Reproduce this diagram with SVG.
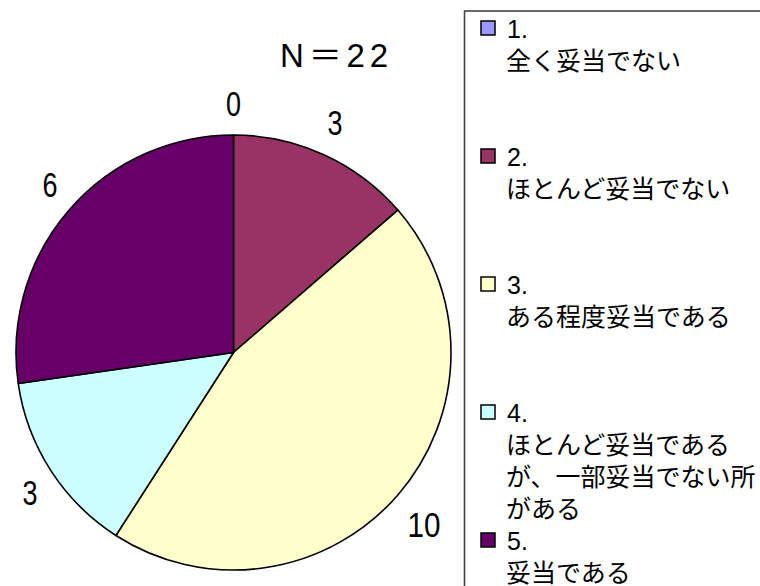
<svg xmlns="http://www.w3.org/2000/svg" width="760" height="586" viewBox="0 0 760 586">
<style>
.slice{stroke:#000;stroke-width:1.6;stroke-linejoin:round}
.num{font-family:"Liberation Sans","DejaVu Sans",sans-serif;font-size:35px;fill:#000}
.lg{font-family:"Liberation Sans","Noto Sans CJK JP",sans-serif;font-size:25px;fill:#000}
.sw{stroke:#000;stroke-width:1.5}
</style>
<rect width="760" height="586" fill="#fff"/>
<g id="title"><text x="280" y="67" font-family="Liberation Sans, Noto Sans CJK JP, sans-serif" font-size="33" textLength="108" lengthAdjust="spacing">N＝22</text></g>
<g id="pie">
<g id="slice2"><path class="slice" fill="#993366" d="M233.5,352.5 L233.5,135 A217.5,217.5 0 0 1 397.88,210.07 Z"/></g>
<g id="slice3"><path class="slice" fill="#FFFFCC" d="M233.5,352.5 L397.88,210.07 A217.5,217.5 0 0 1 115.91,535.47 Z"/></g>
<g id="slice4"><path class="slice" fill="#CCFFFF" d="M233.5,352.5 L115.91,535.47 A217.5,217.5 0 0 1 18.21,383.45 Z"/></g>
<g id="slice5"><path class="slice" fill="#660066" d="M233.5,352.5 L18.21,383.45 A217.5,217.5 0 0 1 233.5,135 Z"/></g>
</g>
<g id="labels">
<text class="num" x="226" y="116" textLength="15" lengthAdjust="spacingAndGlyphs">0</text>
<text class="num" x="327.5" y="135" textLength="15" lengthAdjust="spacingAndGlyphs">3</text>
<text class="num" x="42.5" y="197" textLength="15" lengthAdjust="spacingAndGlyphs">6</text>
<text class="num" x="22.5" y="505" textLength="15" lengthAdjust="spacingAndGlyphs">3</text>
<text class="num" x="407.5" y="537" textLength="33" lengthAdjust="spacingAndGlyphs">10</text>
</g>
<g id="legend">
<rect x="464.5" y="11" width="320" height="600" fill="#fff" stroke="#444" stroke-width="1.6"/>
<g id="leg1"><rect class="sw" x="481" y="21" width="14" height="14" fill="#9999FF"/>
<text class="lg" x="507" y="38">1.</text><text class="lg" x="506" y="70">全く妥当でない</text></g>
<g id="leg2"><rect class="sw" x="481" y="149" width="14" height="14" fill="#993366"/>
<text class="lg" x="507" y="166">2.</text><text class="lg" x="506" y="198">ほとんど妥当でない</text></g>
<g id="leg3"><rect class="sw" x="481" y="277" width="14" height="14" fill="#FFFFCC"/>
<text class="lg" x="507" y="294">3.</text><text class="lg" x="506" y="326">ある程度妥当である</text></g>
<g id="leg4"><rect class="sw" x="481" y="405" width="14" height="14" fill="#CCFFFF"/>
<text class="lg" x="507" y="422">4.</text><text class="lg" x="506" y="454">ほとんど妥当である</text>
<text class="lg" x="506" y="486">が、一部妥当でない所</text><text class="lg" x="506" y="518">がある</text></g>
<g id="leg5"><rect class="sw" x="481" y="533" width="14" height="14" fill="#660066"/>
<text class="lg" x="507" y="550">5.</text><text class="lg" x="506" y="582">妥当である</text></g>
</g>
</svg>
